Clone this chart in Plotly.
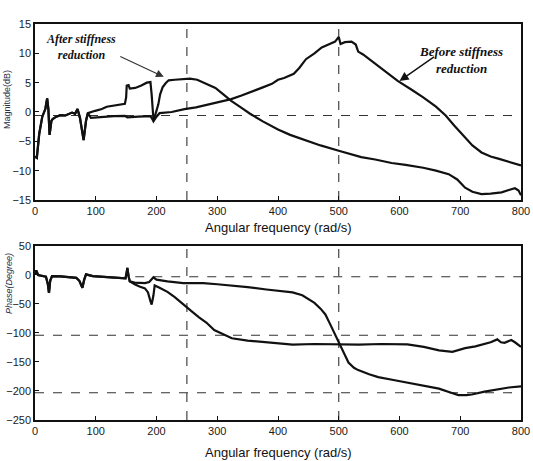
import plotly.graph_objects as go

# ---------------- Magnitude (dB) ----------------
mag_after_f = [0, 3, 7, 12, 17, 20, 22, 24, 27, 29, 35, 42, 50, 61, 66, 70, 74, 78, 80, 84, 87,
               99, 110, 118, 130, 140, 148, 150, 151, 154, 156, 165, 175, 184, 190, 192, 195, 198,
               203, 206, 210, 215, 220, 230, 246, 255, 267, 282, 297, 310, 323, 340, 354, 375,
               400, 420, 446, 470, 500, 520, 537, 560, 587, 610, 639, 660, 681, 695, 708, 720,
               735, 750, 768, 780, 790, 796, 800]
mag_after_db = [-7.6, -7.8, -3.7, -0.8, 0.5, 2.3, 0.5, -3.9, -1.5, -1.2, -0.8, -0.55, -0.6, -0.1,
                -0.3, 0.5, -1.0, -4.2, -4.8, -1.5, -0.2, 0.2, 0.5, 0.9, 1.1, 1.2, 1.4, 2.5, 4.5,
                4.6, 4.0, 4.1, 4.5, 5.0, 5.1, 3.0, -1.3, -0.5, 1.3, 3.0, 4.2, 4.9, 5.4, 5.5, 5.6,
                5.7, 5.5, 4.8, 4.1, 3.0, 1.9, 0.7, -0.3, -1.6, -3.0, -3.9, -4.8, -5.7, -6.6, -7.2,
                -7.7, -8.1, -8.7, -9.0, -9.5, -10.0, -10.6, -11.5, -12.9, -13.6, -14.0, -13.9,
                -13.7, -13.3, -13.0, -13.4, -14.2]

mag_before_f = [0, 3, 7, 12, 17, 20, 22, 24, 27, 29, 35, 42, 50, 61, 66, 70, 74, 78, 80, 84, 87,
                92, 110, 130, 148, 152, 170, 190, 193, 195, 200, 205, 225, 246, 265, 282, 300,
                323, 340, 354, 375, 390, 400, 410, 426, 435, 446, 460, 472, 485, 494, 500, 503,
                510, 521, 528, 532, 540, 561, 580, 597, 620, 639, 660, 676, 690, 708, 720, 735,
                750, 764, 780, 800]
mag_before_db = [-7.6, -7.8, -3.7, -0.8, 0.5, 2.3, 0.5, -3.9, -1.5, -1.2, -0.8, -0.55, -0.6, -0.1,
                 -0.3, 0.5, -1.0, -4.2, -4.8, -1.5, -0.2, -1.0, -0.8, -0.7, -0.65, -0.9, -0.8,
                 -0.7, -1.2, -1.6, -0.8, -0.2, 0.0, 0.5, 0.8, 1.2, 1.6, 2.2, 2.8, 3.4, 4.2, 4.8,
                 5.5, 5.8, 6.5, 7.5, 9.0, 10.0, 11.0, 11.6, 12.0, 12.8, 11.6, 11.9, 12.0, 11.5,
                 10.3, 9.8, 8.1, 6.7, 5.3, 3.8, 2.5, 0.9, -0.6, -2.3, -4.3, -5.7, -6.9, -7.6,
                 -8.0, -8.5, -9.1]

# ---------------- Phase (degrees) ----------------
ph_after_f = [0, 2, 5, 12, 18, 21, 23, 25, 28, 42, 55, 68, 73, 78, 81, 84, 95, 106, 120, 135,
              149, 151, 152, 154, 156, 164, 172, 181, 186, 190, 192, 195, 197, 205, 218, 230,
              244, 257, 270, 282, 295, 310, 324, 350, 381, 424, 460, 500, 533, 570, 613, 640,
              665, 687, 700, 708, 725, 737, 750, 761, 767, 773, 784, 790, 800]
ph_after_deg = [2, 8, 0, -1.5, -3, -15, -31, -10, -2, -2.5, -3.5, -5, -10, -22, -8, 1, -2, -2.5,
                -3.5, -4.5, -5.6, 5, 12, -2, -11, -16, -20, -23, -30, -45, -51, -35, -18, -22,
                -29, -38, -51, -62, -73, -82, -95, -102, -109, -113, -116, -120, -119, -120,
                -120, -119, -119.5, -124, -130, -132.5, -128, -126, -123, -120, -116, -111,
                -116, -117, -112, -116, -124]

ph_before_f = [0, 2, 5, 12, 18, 21, 23, 25, 28, 42, 55, 68, 73, 78, 81, 84, 95, 106, 120, 135,
               149, 151, 152, 154, 156, 164, 181, 188, 195, 200, 218, 244, 277, 300, 324, 350,
               381, 400, 424, 440, 449, 460, 470, 478, 485, 492, 500, 508, 516, 525, 532, 550,
               565, 590, 613, 640, 665, 685, 697, 710, 719, 740, 761, 780, 800]
ph_before_deg = [2, 8, 0, -1.5, -3, -15, -31, -10, -2, -2.5, -3.5, -5, -10, -22, -8, 1, -2, -2.5,
                 -3.5, -4.5, -5.6, 5, 12, -2, -11, -13, -14, -12, -4, -8, -11, -14, -14, -16,
                 -18, -21, -25, -27, -30, -35, -41, -48, -58, -68, -83, -98, -117, -135, -151,
                 -160, -164, -171, -176, -181, -185.5, -190, -196, -203, -207, -207, -206, -201,
                 -197, -194, -192]

# reference (dashed) lines
v_marks = [250, 500]
mag_ref_level = -0.6
ph_ref_levels = [-3, -104, -203]
ph_ref_starts = [165, 0, 0]

mag_ticks = [15, 10, 5, 0, -5, -10, -15]
ph_ticks = [50, 0, -50, -100, -150, -200, -250]
freq_ticks = [0, 100, 200, 300, 400, 500, 600, 700, 800]

fig = go.Figure()

dash_style = dict(color="#333333", width=1.1, dash="dash")
curve_style = dict(color="#111111", width=2.2)

# ---- top subplot dashed guides
for v in v_marks:
    fig.add_trace(go.Scatter(x=[v, v], y=[-15, 15], mode="lines", line=dash_style,
                             xaxis="x", yaxis="y", showlegend=False, hoverinfo="skip"))
fig.add_trace(go.Scatter(x=[0, 800], y=[mag_ref_level, mag_ref_level], mode="lines",
                         line=dash_style, xaxis="x", yaxis="y", showlegend=False, hoverinfo="skip"))

# ---- bottom subplot dashed guides
for v in v_marks:
    fig.add_trace(go.Scatter(x=[v, v], y=[-250, 50], mode="lines", line=dash_style,
                             xaxis="x2", yaxis="y2", showlegend=False, hoverinfo="skip"))
for lvl, st in zip(ph_ref_levels, ph_ref_starts):
    fig.add_trace(go.Scatter(x=[st, 800], y=[lvl, lvl], mode="lines", line=dash_style,
                             xaxis="x2", yaxis="y2", showlegend=False, hoverinfo="skip"))

# ---- curves
fig.add_trace(go.Scatter(x=mag_before_f, y=mag_before_db, mode="lines", line=curve_style,
                         xaxis="x", yaxis="y", name="Before stiffness reduction", showlegend=False))
fig.add_trace(go.Scatter(x=mag_after_f, y=mag_after_db, mode="lines", line=curve_style,
                         xaxis="x", yaxis="y", name="After stiffness reduction", showlegend=False))
fig.add_trace(go.Scatter(x=ph_before_f, y=ph_before_deg, mode="lines", line=curve_style,
                         xaxis="x2", yaxis="y2", name="Before stiffness reduction", showlegend=False))
fig.add_trace(go.Scatter(x=ph_after_f, y=ph_after_deg, mode="lines", line=curve_style,
                         xaxis="x2", yaxis="y2", name="After stiffness reduction", showlegend=False))

tick_font = dict(family="Arial, Liberation Sans, sans-serif", size=11, color="#1a1a1a")
axis_common = dict(showline=True, linecolor="#111111", linewidth=1.5, mirror=True,
                   ticks="inside", ticklen=4, tickcolor="#111111", showgrid=False,
                   zeroline=False, tickfont=tick_font, automargin=False)

fig.update_layout(
    width=533, height=461,
    margin=dict(l=35, r=12, t=24, b=41),
    paper_bgcolor="white", plot_bgcolor="white",
    xaxis=dict(domain=[0, 1], range=[0, 800], tickvals=freq_ticks, anchor="y",
               ticklabeloverflow="allow", **axis_common),
    yaxis=dict(domain=[0.5556, 1.0], range=[-15, 15], tickvals=mag_ticks, anchor="x", **axis_common),
    xaxis2=dict(domain=[0, 1], range=[0, 800], tickvals=freq_ticks, anchor="y2",
                ticklabeloverflow="allow", **axis_common),
    yaxis2=dict(domain=[0.0, 0.4394], range=[-250, 50], tickvals=ph_ticks, anchor="x2", **axis_common),
)

title_font = dict(family="Arial, Liberation Sans, sans-serif", size=13, color="#111111")
ann = [
    dict(text="Angular frequency (rad/s)", xref="paper", yref="paper", x=0.5, y=0.487,
         xanchor="center", yanchor="middle", showarrow=False, font=title_font),
    dict(text="Angular frequency (rad/s)", xref="paper", yref="paper", x=0.5, y=-0.081,
         xanchor="center", yanchor="middle", showarrow=False, font=title_font),
    dict(text="Magnitude(dB)", xref="paper", yref="paper", x=-0.058, y=0.81, textangle=-90,
         xanchor="center", yanchor="middle", showarrow=False,
         font=dict(family="Arial, Liberation Sans, sans-serif", size=9, color="#2a2f4a")),
    dict(text="<i>Phase(Degree)</i>", xref="paper", yref="paper", x=-0.052, y=0.345, textangle=-90,
         xanchor="center", yanchor="middle", showarrow=False,
         font=dict(family="Arial, Liberation Sans, sans-serif", size=9, color="#2a2f4a")),
    # label texts
    dict(text="<b><i>After stiffness<br>reduction</i></b>", xref="paper", yref="paper",
         x=0.0953, y=0.9407, xanchor="center", yanchor="middle", showarrow=False,
         font=dict(family="Times New Roman, Liberation Serif, serif", size=12, color="#111111")),
    dict(text="<b><i>Before stiffness<br>reduction</i></b>", xref="paper", yref="paper",
         x=0.876, y=0.909, xanchor="center", yanchor="middle", showarrow=False,
         font=dict(family="Times New Roman, Liberation Serif, serif", size=13, color="#111111")),
    # arrows
    dict(text="", xref="x", yref="y", x=212, y=6.0, ax=-45, ay=-21, showarrow=True,
         arrowhead=2, arrowsize=1.3, arrowwidth=1.2, arrowcolor="#333333"),
    dict(text="", xref="x", yref="y", x=600, y=5.3, ax=36, ay=-25, showarrow=True,
         arrowhead=2, arrowsize=1.3, arrowwidth=1.4, arrowcolor="#111111"),
]
fig.update_layout(annotations=ann)

fig.write_html("out.html")
